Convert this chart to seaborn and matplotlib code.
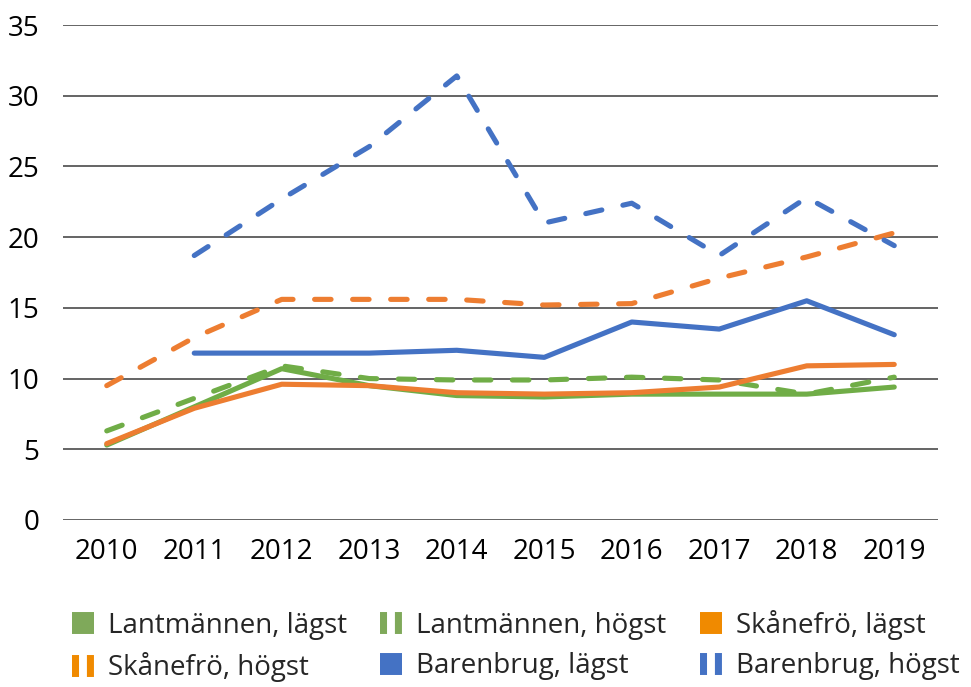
import numpy as np
import pandas as pd
import seaborn as sns
import matplotlib.pyplot as plt
from matplotlib.lines import Line2D

years = ["2010", "2011", "2012", "2013", "2014", "2015", "2016", "2017", "2018", "2019"]

lantmannen_lagst = [5.3, 8.0, 10.7, 9.5, 8.8, 8.7, 8.9, 8.9, 8.9, 9.4]
lantmannen_hogst = [6.3, 8.6, 10.9, 10.0, 9.9, 9.9, 10.1, 9.9, 8.9, 10.1]
skanefro_lagst = [5.4, 7.9, 9.6, 9.5, 9.0, 8.9, 9.0, 9.4, 10.9, 11.0]
skanefro_hogst = [9.5, 12.9, 15.6, 15.6, 15.6, 15.2, 15.3, 17.1, 18.6, 20.3]
barenbrug_lagst = [np.nan, 11.8, 11.8, 11.8, 12.0, 11.5, 14.0, 13.5, 15.5, 13.1]
barenbrug_hogst = [np.nan, 18.7, 22.7, 26.4, 31.4, 21.0, 22.4, 18.7, 22.8, 19.4]

series = {
    "Lantmännen, lägst": lantmannen_lagst,
    "Lantmännen, högst": lantmannen_hogst,
    "Skånefrö, lägst": skanefro_lagst,
    "Skånefrö, högst": skanefro_hogst,
    "Barenbrug, lägst": barenbrug_lagst,
    "Barenbrug, högst": barenbrug_hogst,
}

line_colors = {
    "Lantmännen, lägst": "#70AD47",
    "Lantmännen, högst": "#70AD47",
    "Skånefrö, lägst": "#ED7D31",
    "Skånefrö, högst": "#ED7D31",
    "Barenbrug, lägst": "#4472C4",
    "Barenbrug, högst": "#4472C4",
}
legend_colors = {
    "Lantmännen, lägst": "#7FA95A",
    "Lantmännen, högst": "#7FA95A",
    "Skånefrö, lägst": "#F08A00",
    "Skånefrö, högst": "#F08A00",
    "Barenbrug, lägst": "#4472C4",
    "Barenbrug, högst": "#4472C4",
}
dash_styles = {k: ("" if "lägst" in k else (3.2, 4.2)) for k in series}

rows = []
for name, vals in series.items():
    for i, v in enumerate(vals):
        rows.append({"pos": i, "value": v, "series": name})
df = pd.DataFrame(rows)

sns.set_style("white")
plt.rcParams["font.family"] = ["Open Sans", "DejaVu Sans"]

fig = plt.figure(figsize=(9.71, 6.87), dpi=100)
ax = fig.add_axes([63 / 971, 1 - 520 / 687, (938 - 63) / 971, (520 - 25) / 687])

sns.lineplot(data=df, x="pos", y="value", hue="series", style="series",
             palette=line_colors, dashes=dash_styles, linewidth=3.7,
             dash_capstyle="round", solid_capstyle="round",
             solid_joinstyle="round", legend=False, ax=ax, sort=False)

ax.set_xlim(-0.5, 9.5)
ax.set_ylim(0, 35)
ax.set_yticks(range(0, 36, 5))
ax.set_xticks(range(len(years)))
ax.set_xticklabels(years)
ax.set_xlabel("")
ax.set_ylabel("")
for s in ax.spines.values():
    s.set_visible(False)
ax.yaxis.grid(True, color="#3a3a3a", linewidth=1.1)
ax.xaxis.grid(False)
ax.set_axisbelow(True)
ax.tick_params(axis="y", length=0, pad=17, labelsize=20, labelcolor="black")
ax.tick_params(axis="x", length=0, pad=13, labelsize=20, labelcolor="black")

order = ["Lantmännen, lägst", "Skånefrö, högst", "Lantmännen, högst",
         "Barenbrug, lägst", "Skånefrö, lägst", "Barenbrug, högst"]
handles = []
for name in order:
    if "lägst" in name:
        h = Line2D([], [], color=legend_colors[name], lw=15.8,
                   solid_capstyle="butt")
    else:
        h = Line2D([], [], color=legend_colors[name], lw=15.8,
                   dashes=(0.32, 0.36), dash_capstyle="butt")
    handles.append(h)

fig.legend(handles, order, ncol=3, loc="upper left",
           bbox_to_anchor=(72 / 971, 1 - 610 / 687), frameon=False,
           fontsize=20, handlelength=0.79, handletextpad=0.5,
           columnspacing=1.2, labelspacing=0.45, borderpad=0,
           borderaxespad=0)

fig.savefig("out.png", dpi=100)
